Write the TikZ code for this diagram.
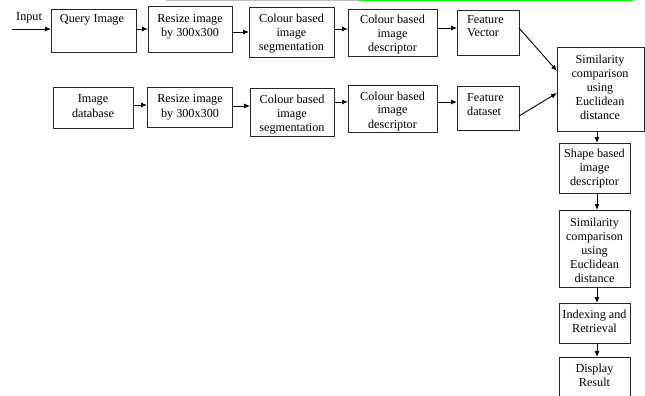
\documentclass[tikz,border=0pt]{standalone}
\usepackage{fontspec}
\setmainfont{Liberation Serif}
\usetikzlibrary{arrows.meta}
\definecolor{hlgreen}{RGB}{0,255,0}
\definecolor{hlgray}{RGB}{190,190,190}
\begin{document}
\begin{tikzpicture}[x=1pt,y=-1pt,
  box/.style={draw=black!85, line width=0.9pt, rectangle, inner sep=0pt, outer sep=0pt, anchor=north west},
  txt/.style={font=\fontsize{12.2}{14}\selectfont, inner sep=0pt, align=center, anchor=base},
  ltxt/.style={font=\fontsize{12.2}{13.5}\selectfont, inner sep=0pt, align=left, anchor=base west},
  arr/.style={draw=black, line width=0.9pt, -{Latex[length=6pt,width=5pt]}}]
\clip (0,0) rectangle (645,396);
\useasboundingbox (0,0) rectangle (645,396);
% top highlight strips
\draw[hlgray, line width=1.5pt] (166,0.5) -- (359,0.5);
\draw[hlgreen, line width=2pt] (359,0.5) -- (633,0.5);
% boxes: top row
\node[box, minimum width=85pt, minimum height=43pt] (q) at (51,9) {};
\node[box, minimum width=84pt, minimum height=46pt] (r1) at (148,6) {};
\node[box, minimum width=85pt, minimum height=50pt] (s1) at (249,7) {};
\node[box, minimum width=89pt, minimum height=47pt] (d1) at (348,9) {};
\node[box, minimum width=62pt, minimum height=45pt] (fv) at (457,10) {};
\node[box, minimum width=87pt, minimum height=84pt] (sim) at (557,47) {};
% bottom row
\node[box, minimum width=80pt, minimum height=41pt] (db) at (53,87) {};
\node[box, minimum width=85pt, minimum height=40pt] (r2) at (147,87) {};
\node[box, minimum width=84pt, minimum height=48pt] (s2) at (250,88) {};
\node[box, minimum width=89pt, minimum height=47pt] (d2) at (348,85) {};
\node[box, minimum width=62pt, minimum height=44pt] (fd) at (457,86) {};
% right column
\node[box, minimum width=71pt, minimum height=50pt] (sh) at (559,143) {};
\node[box, minimum width=71pt, minimum height=77pt] (sim2) at (559,210) {};
\node[box, minimum width=71pt, minimum height=40pt] (ix) at (559,303) {};
\node[box, minimum width=71pt, minimum height=45pt] (disp) at (559,357) {};
% texts (anchored at the baseline of the last line)
\node[ltxt] (inpt) at (16,21) {Input};
\node[txt] (qt) at (92,23) {Query Image};
\node[txt] (r1t) at (190,36.8) {Resize image\\by 300x300};
\node[txt] (s1t) at (291.5,51) {Colour based\\image\\segmentation};
\node[txt] (d1t) at (392.5,51.5) {Colour based\\image\\descriptor};
\node[ltxt] (fvt) at (467,37) {Feature\\Vector};
\node[txt] (simt) at (600,119) {Similarity\\comparison\\using\\Euclidean\\distance};
\node[txt] (dbt) at (93,117) {Image\\database};
\node[txt] (r2t) at (190,117) {Resize image\\by 300x300};
\node[txt] (s2t) at (292,131) {Colour based\\image\\segmentation};
\node[txt] (d2t) at (392.5,128) {Colour based\\image\\descriptor};
\node[ltxt] (fdt) at (467,115) {Feature\\dataset};
\node[txt] (sht) at (594.5,185) {Shape based\\image\\descriptor};
\node[txt] (sim2t) at (594.5,282) {Similarity\\comparison\\using\\Euclidean\\distance};
\node[txt] (ixt) at (594.5,332) {Indexing and\\Retrieval};
\node[txt] (dispt) at (594.5,386) {Display\\Result};
% row reference coordinates
\coordinate (inp) at (12,29);
\coordinate (ya) at (0,29);
\coordinate (yb) at (0,32);
\coordinate (yc) at (0,29);
\coordinate (yd) at (0,28);
\coordinate (ye) at (0,105);
\coordinate (yf) at (0,106);
\coordinate (yg) at (0,102);
\coordinate (vx) at (597,0);
% arrows
\draw[arr] (inp) -- (inp -| q.west);
\draw[arr] (q.east |- ya) -- (r1.west |- ya);
\draw[arr] (r1.east |- yb) -- (s1.west |- yb);
\draw[arr] (s1.east |- yc) -- (d1.west |- yc);
\draw[arr] (d1.east |- yd) -- (fv.west |- yd);
\draw[arr] (fv.east |- yd) -- ([yshift=18pt]sim.west);
\draw[arr] (db.east |- ye) -- (r2.west |- ye);
\draw[arr] (r2.east |- yf) -- (s2.west |- yf);
\draw[arr] (s2.east |- yg) -- (d2.west |- yg);
\draw[arr] (d2.east |- yg) -- (fd.west |- yg);
\draw[arr] ([yshift=-8pt]fd.east) -- ([yshift=-4pt]sim.west);
\draw[arr] (sim.south -| vx) -- (sh.north -| vx);
\draw[arr] (sh.south -| vx) -- (sim2.north -| vx);
\draw[arr] (sim2.south -| vx) -- (ix.north -| vx);
\draw[arr] (ix.south -| vx) -- (disp.north -| vx);
\end{tikzpicture}
\end{document}
